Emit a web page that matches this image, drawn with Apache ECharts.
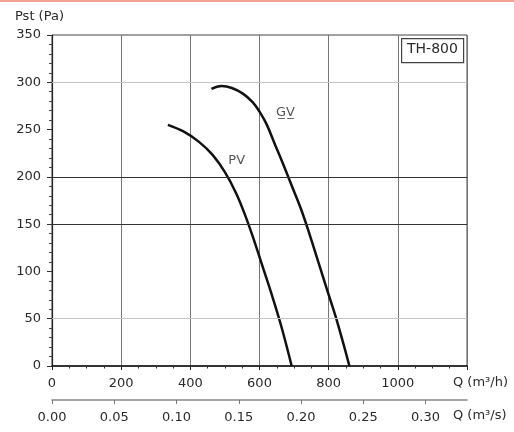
<!DOCTYPE html>
<html>
<head>
<meta charset="utf-8">
<script src="https://cdn.jsdelivr.net/npm/echarts@6/dist/echarts.min.js"></script>
<style>
  html, body { margin: 0; padding: 0; background: #fff; }
  #chart { width: 514px; height: 432px; }
</style>
</head>
<body>
<div id="chart"></div>
<script>
// PV curve (Q in m3/h, Pst in Pa)
var pvFlow = [335, 380, 425, 465, 500, 532, 560, 585, 610, 635, 663, 693];
var pvPressure = [255, 248, 237, 223, 205, 183, 158, 132, 104, 76, 42, 0];
// GV curve
var gvFlow = [461, 490, 520, 552, 580, 600, 620, 645, 670, 695, 720, 745, 770, 795, 822, 860];
var gvPressure = [293, 296, 294, 288, 279, 269, 256, 234, 212, 189, 166, 139, 110, 81, 50, 0];
// curve labels
var curveNames = ["PV", "G\u0332V\u0332"];
var curveLabelFlow = [534, 675];
var curveLabelPressure = [217, 268];
// horizontal grid lines that are drawn in the original
var lightGridP = [50, 300];
var darkGridP = [150, 200];
var flowMax = 1200; // m3/h
var pstMax = 350;

(function () {
  var myChart = echarts.init(document.getElementById("chart"));
  var font = "DejaVu Sans";

  function pairs(xs, ys) {
    var out = [];
    for (var i = 0; i < xs.length; i++) out.push([xs[i], ys[i]]);
    return out;
  }

  var gridLines = [];
  lightGridP.forEach(function (p) {
    gridLines.push({ yAxis: p, lineStyle: { color: "#c4c4c4", width: 1, type: "solid" } });
  });
  darkGridP.forEach(function (p) {
    gridLines.push({ yAxis: p, lineStyle: { color: "#333", width: 1.2, type: "solid" } });
  });

  var option = {
    animation: false,
    backgroundColor: "#fff",
    grid: {
      left: 52,
      right: 47,
      top: 35,
      bottom: 66,
      containLabel: false,
      outerBoundsMode: "none",
      show: true,
      borderColor: "#444",
      borderWidth: 1,
      backgroundColor: "transparent",
    },
    xAxis: [
      {
        type: "value",
        min: 0,
        max: flowMax,
        interval: 200,
        position: "bottom",
        axisLine: { show: true, onZero: false, lineStyle: { color: "#111", width: 1.5 } },
        axisTick: { show: true, inside: false, length: 4, lineStyle: { color: "#222" } },
        minorTick: { show: true, splitNumber: 4, length: 2.5, lineStyle: { color: "#333" } },
        axisLabel: {
          show: true,
          margin: 11,
          color: "#2a2a2a",
          fontFamily: font,
          fontSize: 13,
          showMaxLabel: false,
          hideOverlap: false,
          formatter: function (v) {
            return String(v);
          },
        },
        splitLine: { show: true, lineStyle: { color: "#777", width: 1 } },
        minorSplitLine: { show: false },
      },
      {
        type: "value",
        min: 0,
        max: flowMax / 3600,
        interval: 0.05,
        position: "bottom",
        offset: 34,
        axisLine: { show: true, onZero: false, lineStyle: { color: "#888", width: 1.5 } },
        axisTick: { show: true, inside: false, length: 4, lineStyle: { color: "#777" } },
        axisLabel: {
          show: true,
          margin: 11,
          color: "#2a2a2a",
          fontFamily: font,
          fontSize: 13,
          showMaxLabel: false,
          hideOverlap: false,
          formatter: function (v) {
            return v.toFixed(2);
          },
        },
        splitLine: { show: false },
      },
    ],
    yAxis: {
      type: "value",
      min: 0,
      max: pstMax,
      interval: 50,
      axisLine: { show: true, onZero: false, lineStyle: { color: "#222", width: 1.2 } },
      axisTick: { show: true, inside: false, length: 5, lineStyle: { color: "#333" } },
      minorTick: { show: true, splitNumber: 5, length: 3, lineStyle: { color: "#444" } },
      axisLabel: {
        show: true,
        margin: 11,
        color: "#2a2a2a",
        fontFamily: font,
        fontSize: 13,
        hideOverlap: false,
      },
      splitLine: { show: false },
      minorSplitLine: { show: false },
    },
    series: [
      {
        name: "PV",
        type: "line",
        xAxisIndex: 0,
        yAxisIndex: 0,
        data: pairs(pvFlow, pvPressure),
        smooth: 0.4,
        symbol: "none",
        lineStyle: { color: "#111", width: 2.5 },
        markLine: {
          silent: true,
          symbol: "none",
          label: { show: false },
          data: gridLines,
        },
        z: 3,
      },
      {
        name: "GV",
        type: "line",
        xAxisIndex: 0,
        yAxisIndex: 0,
        data: pairs(gvFlow, gvPressure),
        smooth: 0.4,
        symbol: "none",
        lineStyle: { color: "#111", width: 2.5 },
        z: 3,
      },
      {
        name: "labels",
        type: "scatter",
        xAxisIndex: 0,
        yAxisIndex: 0,
        data: pairs(curveLabelFlow, curveLabelPressure),
        symbolSize: 1,
        itemStyle: { color: "transparent" },
        silent: true,
        label: {
          show: true,
          position: "inside",
          color: "#2a2a2a",
          fontFamily: font,
          fontSize: 13,
          formatter: function (p) {
            return curveNames[p.dataIndex];
          },
        },
        z: 4,
      },
    ],
    graphic: [
      {
        type: "rect",
        left: 0,
        top: 0,
        shape: { width: 514, height: 2 },
        style: { fill: "#f2a393" },
      },
      {
        type: "text",
        left: 15,
        top: 10,
        style: { text: "Pst (Pa)", font: "13px DejaVu Sans", fill: "#2a2a2a" },
      },
      {
        type: "text",
        left: 453,
        top: 376,
        style: { text: "Q (m\u00b3/h)", font: "13px DejaVu Sans", fill: "#2a2a2a" },
      },
      {
        type: "text",
        left: 453,
        top: 409,
        style: { text: "Q (m\u00b3/s)", font: "13px DejaVu Sans", fill: "#2a2a2a" },
      },
      {
        type: "rect",
        left: 401,
        top: 38,
        shape: { width: 62, height: 24 },
        style: { fill: "#fff", stroke: "#444", lineWidth: 1.2 },
        z: 10,
      },
      {
        type: "text",
        left: 407,
        top: 42,
        style: { text: "TH-800", font: "14px DejaVu Sans", fill: "#2a2a2a" },
        z: 11,
      },
    ],
  };

  myChart.setOption(option);
  window.addEventListener("resize", function () {
    myChart.resize();
  });
})();
</script>
</body>
</html>
